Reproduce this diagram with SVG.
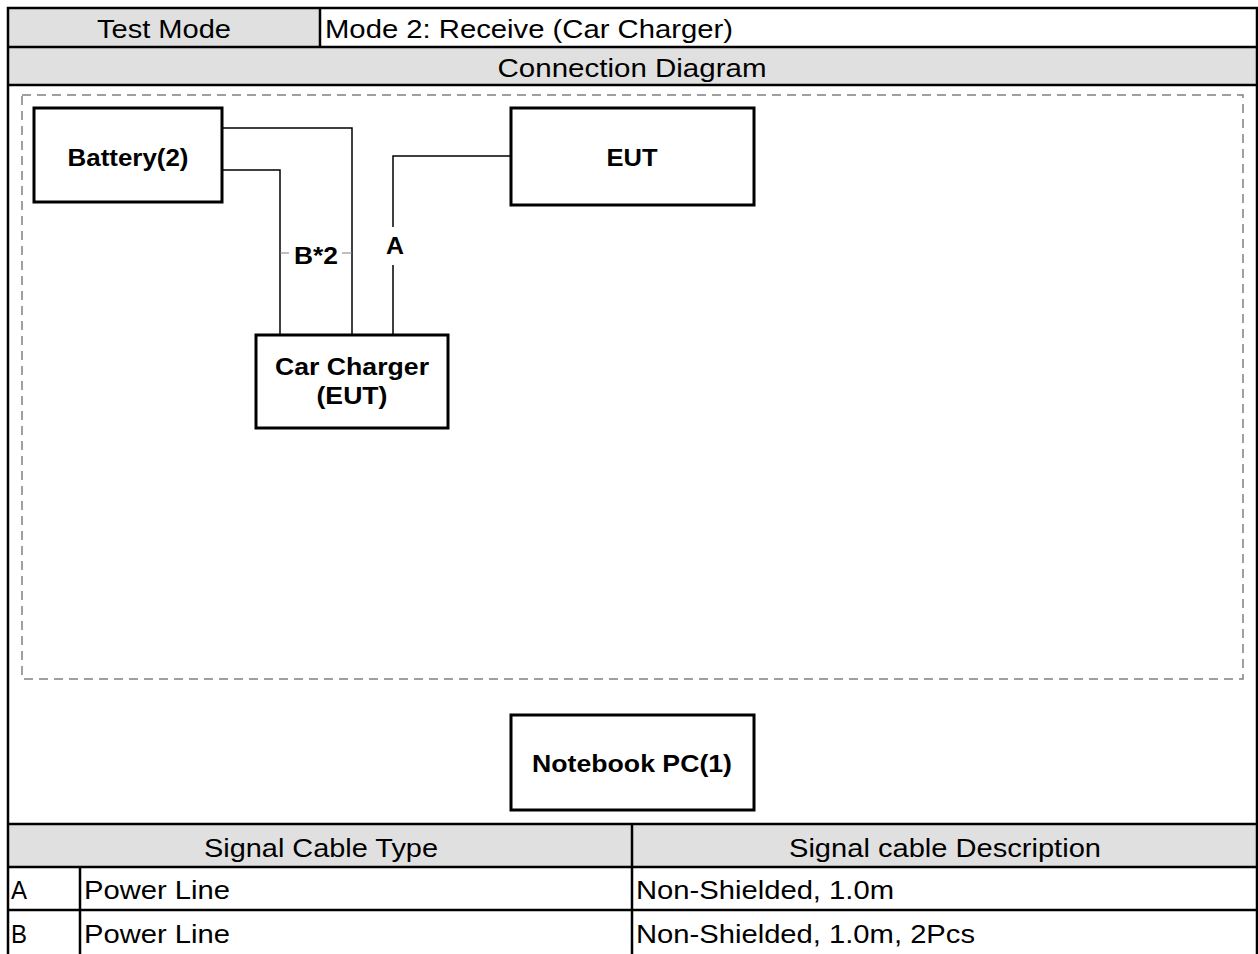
<svg xmlns="http://www.w3.org/2000/svg" width="1258" height="954" viewBox="0 0 1258 954">
  <style>
    .cell { fill: #e0e0e0; }
    .grid { stroke: #000; stroke-width: 2.5; fill: none; }
    .frame { stroke: #808080; stroke-width: 1.5; stroke-dasharray: 9 6; fill: none; }
    .box { fill: #fff; stroke: #000; stroke-width: 3; }
    .wire { stroke: #000; stroke-width: 1.5; fill: none; }
    .leader { stroke: #808080; stroke-width: 1.2; }
    .t { font-family: "Liberation Sans", Arial, sans-serif; font-size: 26px; fill: #000; }
    .b { font-family: "Liberation Sans", Arial, sans-serif; font-size: 23px; font-weight: bold; fill: #000; }
    .c { text-anchor: middle; }
  </style>

  <rect width="1258" height="954" fill="#fff"/>

  <!-- header rows -->
  <g id="header">
    <rect class="cell" x="8" y="8" width="312" height="39"/>
    <rect class="cell" x="8" y="47" width="1249" height="38"/>
    <text class="t c" x="164" y="38" textLength="134" lengthAdjust="spacingAndGlyphs">Test Mode</text>
    <text class="t" x="325" y="38" textLength="408" lengthAdjust="spacingAndGlyphs">Mode 2: Receive (Car Charger)</text>
    <text class="t c" x="632" y="77" textLength="269" lengthAdjust="spacingAndGlyphs">Connection Diagram</text>
  </g>

  <!-- cable table -->
  <g id="cable-table">
    <rect class="cell" x="8" y="824" width="1249" height="43"/>
    <text class="t c" x="321" y="857" textLength="234" lengthAdjust="spacingAndGlyphs">Signal Cable Type</text>
    <text class="t c" x="945" y="857" textLength="312" lengthAdjust="spacingAndGlyphs">Signal cable Description</text>
    <text class="t" x="11" y="899" textLength="16" lengthAdjust="spacingAndGlyphs">A</text>
    <text class="t" x="84" y="899" textLength="146" lengthAdjust="spacingAndGlyphs">Power Line</text>
    <text class="t" x="636" y="899" textLength="258" lengthAdjust="spacingAndGlyphs">Non-Shielded, 1.0m</text>
    <text class="t" x="11" y="943" textLength="16" lengthAdjust="spacingAndGlyphs">B</text>
    <text class="t" x="84" y="943" textLength="146" lengthAdjust="spacingAndGlyphs">Power Line</text>
    <text class="t" x="636" y="943" textLength="339" lengthAdjust="spacingAndGlyphs">Non-Shielded, 1.0m, 2Pcs</text>
  </g>

  <!-- grid lines -->
  <g id="grid" class="grid">
    <path d="M8 954 V8 H1257 V954"/>
    <path d="M320 8 V47"/>
    <path d="M8 47 H1257 M8 85 H1257"/>
    <path d="M8 824 H1257 M8 867 H1257 M8 910 H1257"/>
    <path d="M632 824 V954 M80 867 V954"/>
  </g>

  <!-- dashed test area -->
  <rect class="frame" x="22" y="95" width="1221" height="584"/>

  <!-- connectors -->
  <g id="connectors">
    <path class="wire" d="M222 128 H352 V335"/>
    <path class="wire" d="M222 170 H280 V335"/>
    <path class="wire" d="M511 156 H393 V227 M393 265 V335"/>
    <path class="leader" d="M280 253 H289 M342 253 H352"/>
    <text class="b c" x="316" y="264" textLength="44" lengthAdjust="spacingAndGlyphs">B*2</text>
    <text class="b c" x="395" y="254" textLength="18" lengthAdjust="spacingAndGlyphs">A</text>
  </g>

  <g id="battery">
    <rect class="box" x="34" y="108" width="188" height="94"/>
    <text class="b c" x="128" y="166" textLength="121" lengthAdjust="spacingAndGlyphs">Battery(2)</text>
  </g>

  <g id="eut">
    <rect class="box" x="511" y="108" width="243" height="97"/>
    <text class="b c" x="632" y="166" textLength="51" lengthAdjust="spacingAndGlyphs">EUT</text>
  </g>

  <g id="car-charger">
    <rect class="box" x="256" y="335" width="192" height="93"/>
    <text class="b c" x="352" y="375" textLength="154" lengthAdjust="spacingAndGlyphs">Car Charger</text>
    <text class="b c" x="352" y="404" textLength="71" lengthAdjust="spacingAndGlyphs">(EUT)</text>
  </g>

  <g id="notebook">
    <rect class="box" x="511" y="715" width="243" height="95"/>
    <text class="b c" x="632" y="772" textLength="200" lengthAdjust="spacingAndGlyphs">Notebook PC(1)</text>
  </g>
</svg>
